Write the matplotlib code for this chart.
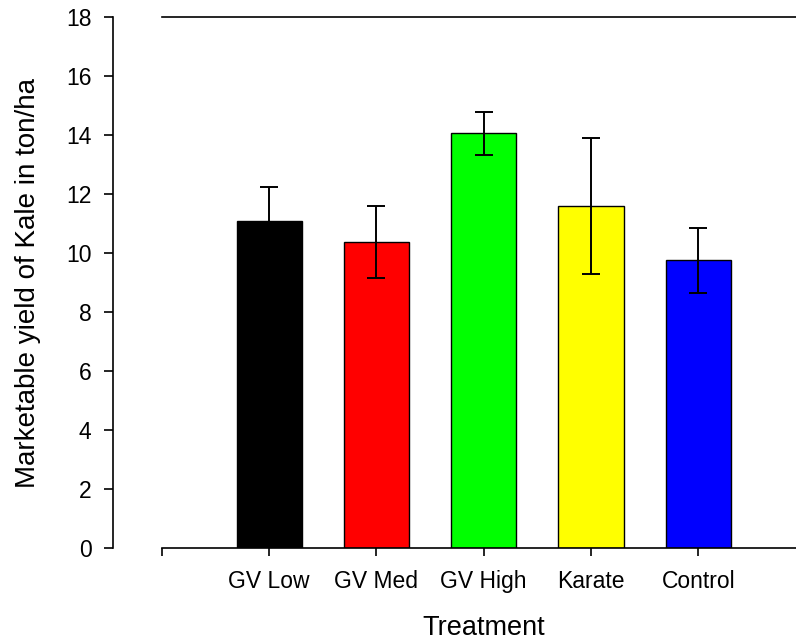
import numpy as np
import matplotlib
matplotlib.use("Agg")
import matplotlib.pyplot as plt

plt.rcParams['font.family'] = ['Liberation Sans', 'DejaVu Sans']

## data
treatments = ['GV Low', 'GV Med', 'GV High', 'Karate', 'Control']
yield_mean = [11.10, 10.38, 14.06, 11.60, 9.75]
yield_err = [1.14, 1.22, 0.73, 2.30, 1.11]
bar_colors = ['#000000', '#ff0000', '#00ff00', '#ffff00', '#0000ff']

fig = plt.figure(figsize=(7.96, 6.43), dpi=100)
ax = fig.add_axes([0.2035, 0.1477, 0.8084, 0.8258])

xpos = np.arange(len(treatments))
ax.bar(xpos, yield_mean, width=0.61, color=bar_colors, edgecolor='black', linewidth=1.0, zorder=2)
ax.errorbar(xpos, yield_mean, yerr=yield_err, fmt='none', ecolor='black',
            elinewidth=1.4, capsize=6.5, capthick=1.4, zorder=3)

ax.set_xlim(-1, 5)
ax.set_ylim(0, 18)
ax.set_yticks(np.arange(0, 19, 2))
ax.set_xticks(xpos)
ax.set_xticklabels(treatments)
ax.set_xticks([-1], minor=True)

## spines: offset left axis, top line at 18, no right axis
ax.spines['left'].set_position(('outward', 35.3))
ax.spines['right'].set_visible(False)
for s in ['left', 'bottom', 'top']:
    ax.spines[s].set_linewidth(1.2)

ax.tick_params(axis='y', direction='out', length=6.5, width=1.2, pad=9, labelsize=16.5)
ax.tick_params(axis='x', which='both', direction='out', length=6, width=1.2, pad=10, labelsize=16.5)

ax.set_ylabel('Marketable yield of Kale in ton/ha', fontsize=20, labelpad=18)
ax.set_xlabel('Treatment', fontsize=19.5, labelpad=16)

fig.savefig('out.png', dpi=100)
